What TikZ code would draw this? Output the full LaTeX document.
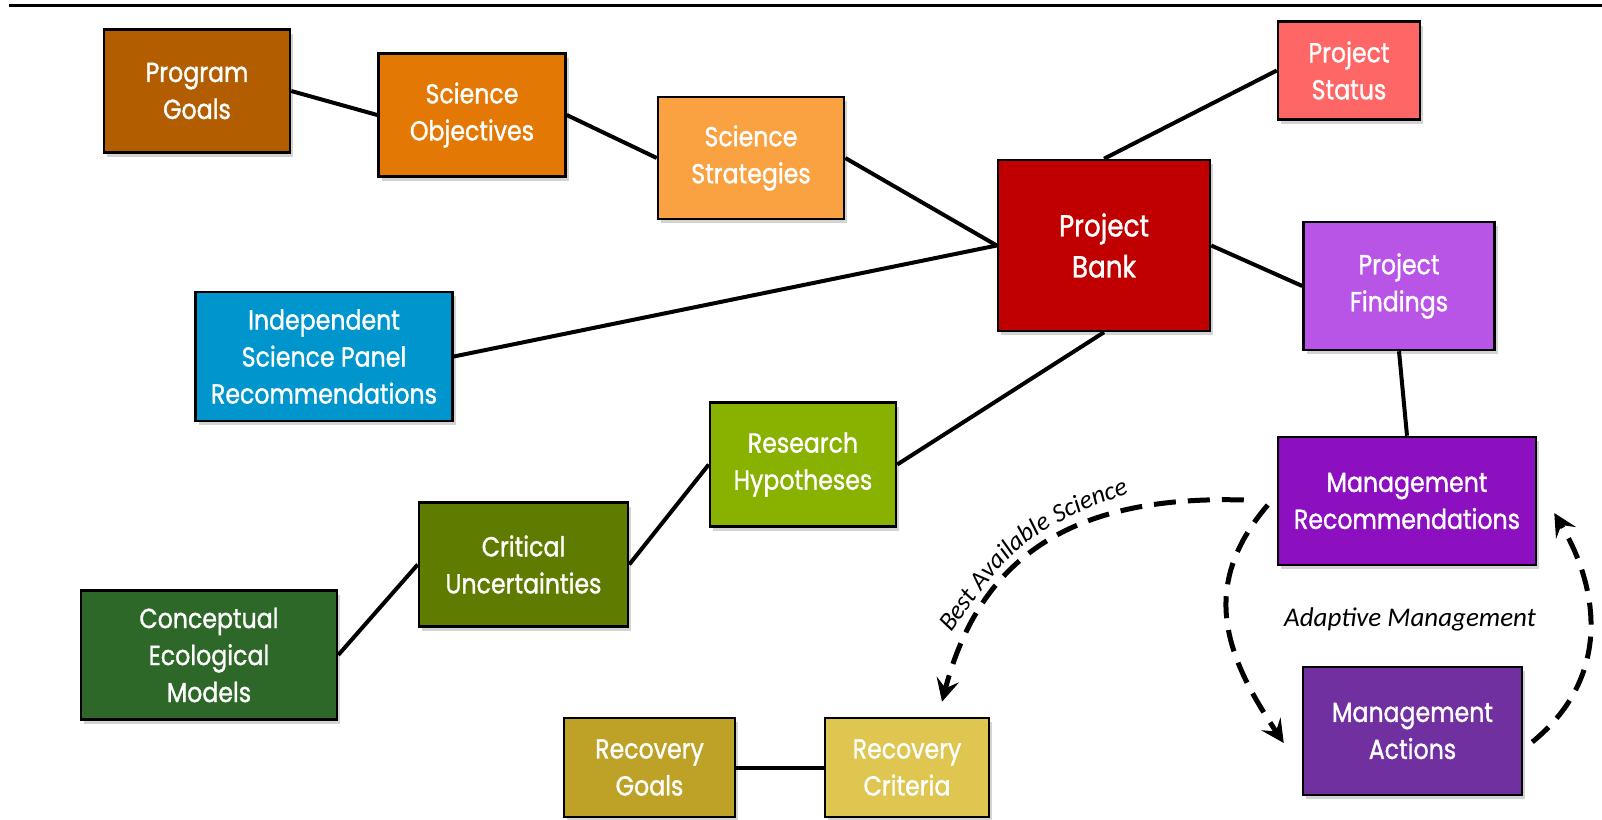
\documentclass[tikz,border=0pt]{standalone}
\usepackage{fontspec}
\usetikzlibrary{arrows.meta,calc,shadows,decorations.text}
\newfontfamily\boxfont{Poppins}[FakeStretch=0.86, FakeBold=1.2]
\newfontfamily\notefont{Carlito}

\definecolor{goalsbrown}{RGB}{178,94,0}
\definecolor{objorange}{RGB}{228,120,5}
\definecolor{stratorange}{RGB}{250,162,66}
\definecolor{bankred}{RGB}{192,0,0}
\definecolor{statusred}{RGB}{255,102,102}
\definecolor{findviolet}{RGB}{185,85,230}
\definecolor{panelblue}{RGB}{0,150,205}
\definecolor{hypgreen}{RGB}{137,178,0}
\definecolor{uncgreen}{RGB}{96,124,0}
\definecolor{modelgreen}{RGB}{46,104,40}
\definecolor{recpurple}{RGB}{140,15,192}
\definecolor{actpurple}{RGB}{112,48,160}
\definecolor{goalsgold}{RGB}{190,162,40}
\definecolor{critgold}{RGB}{222,198,80}

\tikzset{
  pbox/.style={draw=black, line width=2.5pt, text=white, align=center, inner sep=0pt,
    font=\boxfont\fontsize{27.5}{37}\selectfont,
    drop shadow={shadow xshift=3pt, shadow yshift=-4pt, opacity=0.35}},
  connect/.style={line width=4pt},
  cyclearrow/.style={line width=5pt, dash pattern=on 22pt off 12pt,
    -{Stealth[length=23pt, width=23pt, inset=9pt]}},
}

\begin{document}
\begin{tikzpicture}
  \begin{scope}[x=1pt, y=-1pt]
    \useasboundingbox (0,0) rectangle (1602,819);
    \draw[line width=3pt] (9,5) -- (1602,5);
    % boxes
    \node[pbox, fill=goalsbrown, minimum width=186pt, minimum height=123pt] (goals) at (197,91) {Program\\Goals};
    \node[pbox, fill=objorange, minimum width=187pt, minimum height=123pt] (objectives) at (472,115) {Science\\Objectives};
    \node[pbox, fill=stratorange, minimum width=186pt, minimum height=122pt] (strategies) at (751,158) {Science\\Strategies};
    \node[pbox, fill=bankred, minimum width=212pt, minimum height=171pt, font=\boxfont\fontsize{30.5}{41}\selectfont] (bank) at (1104,245.5) {Project\\Bank};
    \node[pbox, fill=statusred, minimum width=142pt, minimum height=98pt] (status) at (1349,70.5) {Project\\Status};
    \node[pbox, fill=findviolet, minimum width=191pt, minimum height=128pt] (findings) at (1399,286) {Project\\Findings};
    \node[pbox, fill=panelblue, minimum width=257pt, minimum height=129pt] (panel) at (324,356.5) {Independent\\Science Panel\\Recommendations};
    \node[pbox, fill=hypgreen, minimum width=186pt, minimum height=124pt] (hypotheses) at (803,464.5) {Research\\Hypotheses};
    \node[pbox, fill=uncgreen, minimum width=209pt, minimum height=124pt] (uncertain) at (523.5,564.5) {Critical\\Uncertainties};
    \node[pbox, fill=modelgreen, minimum width=256pt, minimum height=129pt] (models) at (209,655) {Conceptual\\Ecological\\Models};
    \node[pbox, fill=recpurple, minimum width=258pt, minimum height=128pt] (mrecs) at (1407,501) {Management\\Recommendations};
    \node[pbox, fill=actpurple, minimum width=219pt, minimum height=128pt] (mactions) at (1412.5,731) {Management\\Actions};
    \node[pbox, fill=goalsgold, minimum width=171pt, minimum height=99pt] (rgoals) at (649.5,767.5) {Recovery\\Goals};
    \node[pbox, fill=critgold, minimum width=164pt, minimum height=99pt] (rcriteria) at (907,767.5) {Recovery\\Criteria};
    % links
    \draw[connect] (goals.east) -- (objectives.west);
    \draw[connect] (objectives.east) -- (strategies.west);
    \draw[connect] (strategies.east) -- (bank.west);
    \draw[connect] (panel.east) -- (bank.west);
    \draw[connect] (bank.north) -- (status.west);
    \draw[connect] (bank.east) -- (findings.west);
    \draw[connect] (bank.south) -- (hypotheses.east);
    \draw[connect] (hypotheses.west) -- (uncertain.east);
    \draw[connect] (uncertain.west) -- (models.east);
    \draw[connect] (findings.south) -- (mrecs.north);
    \draw[connect] (rgoals.east) -- (rcriteria.west);
    % dashed cycles
    \draw[cyclearrow] ($(mrecs.west)+(-9,4)$) .. controls +(-69,81) and +(-59,-88) .. ($(mactions.west)+(-18,12)$);
    \draw[cyclearrow] ($(mactions.east)+(9,11)$) .. controls +(75,-61) and +(49,83) .. ($(mrecs.east)+(17,12)$);
    \draw[cyclearrow] ($(mrecs.west)+(-33,-1)$) .. controls +(-170,-5) and +(38,-146) .. ($(rcriteria.north)+(35,-15)$);
    \path[decorate, decoration={text along path, text align=center,
      text={|\notefont\itshape\fontsize{26}{26}\selectfont|Best Available Science}}]
      (944,642) .. controls (993,580) and (1004,532) .. (1140,490);
    \node[font=\notefont\itshape\fontsize{27}{27}\selectfont, anchor=base] (adaptive) at (1410,626) {Adaptive Management};
  \end{scope}
\end{tikzpicture}
\end{document}
